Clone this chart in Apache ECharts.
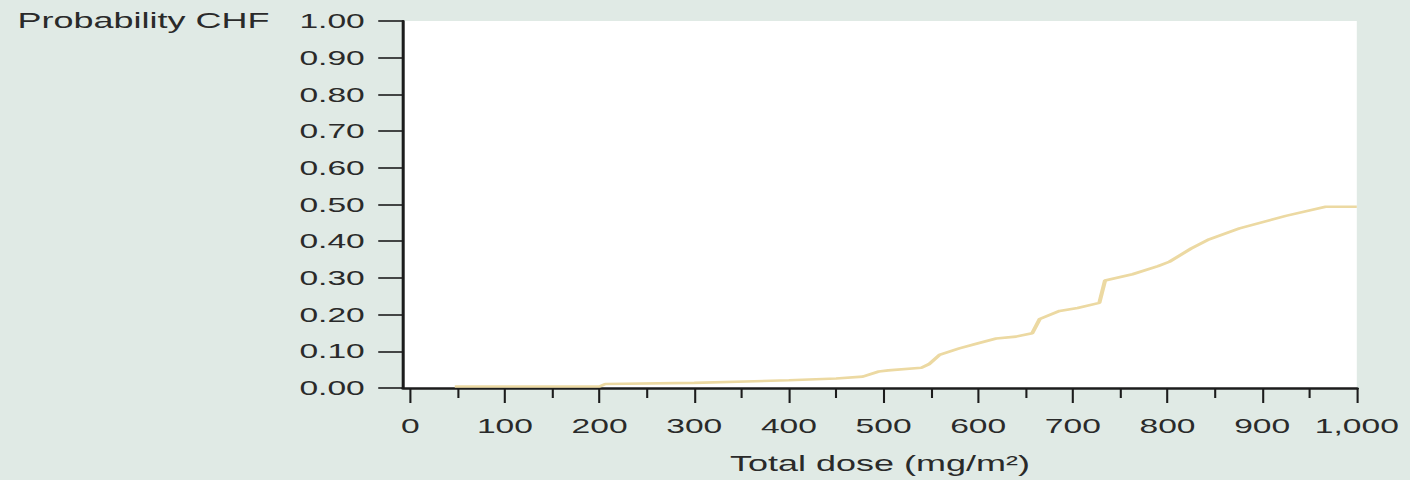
<!DOCTYPE html>
<html>
<head>
<meta charset="utf-8">
<style>
    html, body {
        margin: 0;
        padding: 0;
        overflow: hidden;
        background: #e0eae5;
    }
    /* the reference is a horizontally stretched figure, so stretch the chart the same way */
    #chf-chart {
        width: 882px;
        height: 480px;
        transform: scaleX(1.6);
        transform-origin: 0 0;
    }
</style>
<script src="https://cdn.jsdelivr.net/npm/echarts@6/dist/echarts.min.js"></script>
</head>
<body>
<div id="chf-chart"></div>
<script>
    // cumulative probability of CHF by total dose
    var doseValues = [47, 200, 206, 300, 400, 450, 478, 495, 505, 540, 548, 559, 580, 600, 619, 640, 657, 665, 686, 705, 728, 734, 763, 790, 802, 825, 844, 876, 925, 967, 1000];
    var probValues = [0.004, 0.004, 0.011, 0.014, 0.021, 0.026, 0.031, 0.045, 0.048, 0.055, 0.065, 0.09, 0.108, 0.122, 0.135, 0.14, 0.149, 0.188, 0.21, 0.218, 0.232, 0.293, 0.31, 0.332, 0.344, 0.38, 0.405, 0.435, 0.469, 0.494, 0.494];

    var xTickValues = [0, 100, 200, 300, 400, 500, 600, 700, 800, 900, 1000];
    var xMinorTickValues = [50, 150, 250, 350, 450, 550, 650, 750, 850, 950];

    var yAxisTitle = 'Probability CHF';
    var xAxisTitle = 'Total dose (mg/m²)';

    var textColor = '#2a2a2a';
    var axisColor = '#1c1c1c';
    var fontName = 'Liberation Sans';

    var points = [];
    for (var i = 0; i < doseValues.length; i++) {
        points.push([doseValues[i], probValues[i]]);
    }

    var myChart = echarts.init(document.getElementById('chf-chart'), null, {renderer: 'svg'});
    var options = {
        backgroundColor: '#e0eae5',
        animation: false,
        title: {
            text: yAxisTitle,
            left: 11,
            top: 9,
            padding: 0,
            textStyle: {
                fontFamily: fontName,
                fontSize: 22.5,
                fontWeight: 'normal',
                color: textColor
            }
        },
        grid: {
            left: 252,
            right: 34,
            top: 21,
            bottom: 90,
            show: true,
            backgroundColor: '#ffffff',
            borderWidth: 0
        },
        xAxis: [{
            type: 'value',
            min: -7.5,
            max: 1000,
            name: xAxisTitle,
            nameLocation: 'middle',
            nameGap: 64,
            nameTextStyle: {
                fontFamily: fontName,
                fontSize: 22.5,
                color: textColor
            },
            axisLine: {
                show: true,
                onZero: false,
                lineStyle: {color: axisColor, width: 2.5}
            },
            axisTick: {
                show: true,
                customValues: xTickValues,
                length: 15,
                lineStyle: {color: axisColor, width: 1.3}
            },
            axisLabel: {
                customValues: xTickValues,
                margin: 27,
                fontFamily: fontName,
                fontSize: 21,
                color: textColor,
                formatter: function (v) {
                    return v >= 1000 ? '1,000' : String(v);
                }
            },
            splitLine: {show: false}
        }, {
            // minor ticks only
            type: 'value',
            min: -7.5,
            max: 1000,
            position: 'bottom',
            axisLine: {show: false},
            axisLabel: {show: false},
            splitLine: {show: false},
            axisTick: {
                show: true,
                customValues: xMinorTickValues,
                length: 10,
                lineStyle: {color: axisColor, width: 1.3}
            }
        }],
        yAxis: {
            type: 'value',
            min: 0,
            max: 1,
            interval: 0.1,
            axisLine: {
                show: true,
                onZero: false,
                lineStyle: {color: axisColor, width: 1.9}
            },
            axisTick: {
                show: true,
                length: 15.6,
                lineStyle: {color: axisColor, width: 1.6}
            },
            axisLabel: {
                margin: 24,
                fontFamily: fontName,
                fontSize: 21,
                color: textColor,
                formatter: function (v) {
                    return v.toFixed(2);
                }
            },
            splitLine: {show: false}
        },
        series: [{
            name: yAxisTitle,
            type: 'line',
            data: points,
            symbol: 'none',
            smooth: false,
            lineStyle: {color: '#ecd9a2', width: 2.6}
        }]
    };
    myChart.setOption(options);
</script>
</body>
</html>
